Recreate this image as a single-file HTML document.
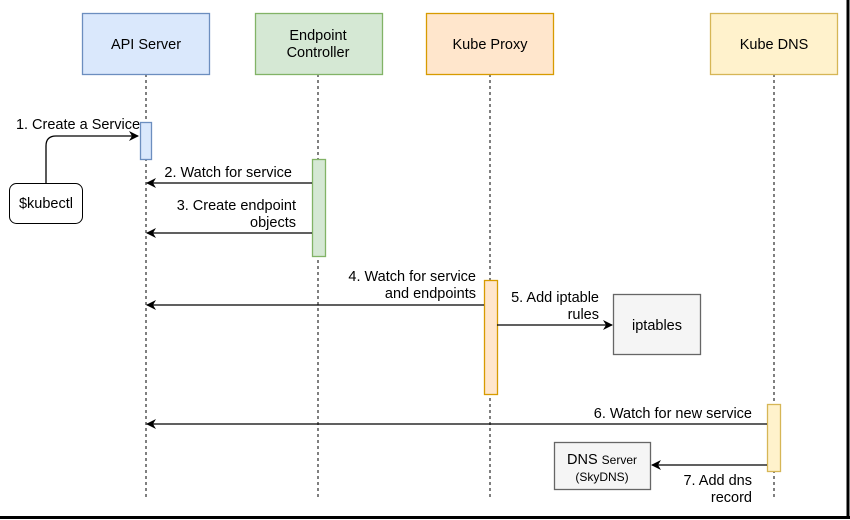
<!DOCTYPE html>
<html><head><meta charset="utf-8"><style>
html,body{margin:0;padding:0;background:#fff;}
svg{display:block;font-family:"Liberation Sans",Arial,sans-serif;}
</style></head><body>
<svg width="850" height="520" viewBox="0 0 850 520" xmlns="http://www.w3.org/2000/svg">
<defs>
<marker id="a" markerWidth="10" markerHeight="10" refX="9" refY="5" orient="auto" markerUnits="userSpaceOnUse">
<path d="M0,0 L10,5 L0,10 L3,5 Z" fill="#000"/>
</marker>
</defs>
<rect x="0" y="0" width="850" height="520" fill="#fff"/>
<line x1="848" y1="0" x2="848" y2="518" stroke="#000" stroke-width="3"/>
<line x1="0" y1="517.5" x2="850" y2="517.5" stroke="#000" stroke-width="3"/>
<g stroke="#000" stroke-dasharray="3,3" stroke-width="1">
<line x1="146" y1="74" x2="146" y2="500"/>
<line x1="318" y1="74" x2="318" y2="500"/>
<line x1="490" y1="74" x2="490" y2="500"/>
<line x1="774" y1="74" x2="774" y2="500"/>
</g>
<g font-size="14.5" text-anchor="middle">
<rect x="82.5" y="13.5" width="127" height="61" fill="#dae8fc" stroke="#6c8ebf" stroke-width="1.3"/>
<text x="146" y="49">API Server</text>
<rect x="255.5" y="13.5" width="127" height="61" fill="#d5e8d4" stroke="#82b366" stroke-width="1.3"/>
<text x="318" y="40">Endpoint</text>
<text x="318" y="57">Controller</text>
<rect x="426.5" y="13.5" width="127" height="61" fill="#ffe6cc" stroke="#d79b00" stroke-width="1.3"/>
<text x="490" y="49">Kube Proxy</text>
<rect x="710.5" y="13.5" width="127" height="61" fill="#fff2cc" stroke="#d6b656" stroke-width="1.3"/>
<text x="774" y="49">Kube DNS</text>
</g>
<rect x="140.5" y="122.5" width="11" height="37" fill="#dae8fc" stroke="#6c8ebf" stroke-width="1.3"/>
<rect x="312.5" y="159.5" width="13" height="97" fill="#d5e8d4" stroke="#82b366" stroke-width="1.3"/>
<rect x="484.5" y="280.5" width="13" height="114" fill="#ffe6cc" stroke="#d79b00" stroke-width="1.3"/>
<rect x="767.5" y="404.5" width="13" height="67" fill="#fff2cc" stroke="#d6b656" stroke-width="1.3"/>
<rect x="9.5" y="183.5" width="73" height="40" rx="7" fill="#fff" stroke="#000"/>
<text x="46" y="208" font-size="14.5" text-anchor="middle">$kubectl</text>
<path d="M46,183 V146 Q46,136 56,136 H138" fill="none" stroke="#000" stroke-width="1.3" marker-end="url(#a)"/>
<text x="78" y="129" font-size="14.5" text-anchor="middle">1. Create a Service</text>
<g stroke="#000" stroke-width="1.3" fill="none" marker-end="url(#a)">
<line x1="312" y1="183" x2="147" y2="183"/>
<line x1="312" y1="233" x2="147" y2="233"/>
<line x1="484" y1="305" x2="147" y2="305"/>
<line x1="497" y1="325" x2="612" y2="325"/>
<line x1="767" y1="424" x2="147" y2="424"/>
<line x1="767" y1="465" x2="652" y2="465"/>
</g>
<g font-size="14.5" text-anchor="end">
<text x="292" y="177">2. Watch for service</text>
<text x="296" y="210">3. Create endpoint</text>
<text x="296" y="227">objects</text>
<text x="476" y="281">4. Watch for service</text>
<text x="476" y="298">and endpoints</text>
<text x="599" y="302">5. Add iptable</text>
<text x="599" y="319">rules</text>
<text x="752" y="418">6. Watch for new service</text>
<text x="752" y="485">7. Add dns</text>
<text x="752" y="502">record</text>
</g>
<rect x="613.5" y="294.5" width="87" height="60" fill="#f5f5f5" stroke="#666" stroke-width="1.3"/>
<text x="657" y="330" font-size="14.5" text-anchor="middle">iptables</text>
<rect x="554.5" y="442.5" width="96" height="47" fill="#f5f5f5" stroke="#666" stroke-width="1.3"/>
<text x="602" y="464" font-size="14.5" text-anchor="middle">DNS <tspan font-size="12">Server</tspan></text>
<text x="602" y="481" font-size="12" text-anchor="middle">(SkyDNS)</text>
</svg>
</body></html>
